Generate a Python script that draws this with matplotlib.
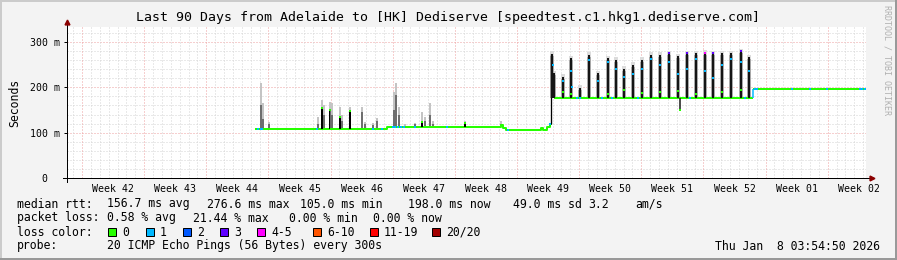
import matplotlib
matplotlib.use("Agg")
import matplotlib.pyplot as plt
from matplotlib.patches import Rectangle
from matplotlib.lines import Line2D

plt.rcParams['font.family'] = ['DejaVu Sans Mono']

W, H = 897, 260

# ---- data (x in days since start of the 90 day window, y in ms) ----
week_labels = ['Week 42', 'Week 43', 'Week 44', 'Week 45', 'Week 46', 'Week 47',
               'Week 48', 'Week 49', 'Week 50', 'Week 51', 'Week 52', 'Week 01', 'Week 02']
first_week_line = 1.69

# median rtt, step series for the low section
med_days = [21.3, 36.0, 48.9, 49.1, 49.4, 53.4, 53.6, 54.1, 54.4, 54.57]
med_vals = [108, 112, 117, 110, 106, 110, 106, 112, 120, 120]

# short median spikes in the low section
low_spike_days = [28.72, 29.62, 30.75, 31.88, 39.99, 44.83]
low_spike_peak = [154, 150, 135, 148, 124, 121]

# smoke in the low section
smoke_a_days = [21.85, 22.08, 22.75, 28.27, 28.72, 28.95, 29.62, 29.85, 30.75, 30.98,
                31.88, 33.23, 33.57, 34.47, 34.92, 36.83, 37.06, 37.40, 38.07, 39.20,
                39.99, 40.32, 40.89, 41.23, 44.83, 48.89]
smoke_a_top = [209, 165, 124, 135, 172, 160, 168, 165, 157, 140,
               157, 157, 124, 121, 132, 190, 209, 157, 118, 121,
               146, 135, 165, 125, 125, 125]
smoke_a_dark = [160, 130, 118, 120, 154, 140, 150, 140, 135, 125,
                148, 145, 120, 117, 125, 150, 183, 140, 115, 118,
                124, 125, 140, 120, 121, 118]

# daily spikes in the high section
base_b = 176
spike_days = [54.63, 54.86, 55.87, 56.77, 57.78, 58.80, 59.81, 60.94, 61.84, 62.74,
              63.76, 64.77, 65.78, 66.80, 67.81, 68.82, 69.84, 70.85, 71.86, 72.76,
              73.78, 74.79, 75.92, 76.82]
spike_peak = [273, 231, 223, 264, 198, 271, 231, 264, 260, 240,
              249, 260, 271, 271, 275, 268, 275, 275, 276, 275,
              275, 275, 279, 266]
spike_smoke = [326, 240, 235, 272, 212, 280, 245, 272, 270, 255,
               262, 272, 280, 282, 285, 282, 286, 285, 326, 285,
               285, 286, 288, 280]
dip_day, dip_val = 69.05, 150

flat_start, flat_end, flat_val = 77.27, 89.9, 197

# loss colour marks (day, ms)
loss1_days = [21.5, 21.8, 22.0, 28.16, 34.47, 35.48, 36.7, 37.0, 37.3, 37.6, 38.0, 39.2,
              42.8, 49.67, 54.4,
              54.75, 55.87, 56.77, 56.9, 58.80, 59.81, 60.94, 61.84, 62.74, 63.76, 64.77,
              65.78, 66.80, 67.81, 68.82, 69.84, 70.85, 71.86, 72.76, 73.78, 74.79,
              75.92, 76.82, 57.45, 57.8, 60.26, 61.4, 64.3, 70.2, 76.4,
              77.5, 77.7, 81.7, 83.7, 85.6, 89.3, 89.6, 89.85]
loss1_vals = [108, 108, 108, 108, 108, 108, 112, 112, 112, 112, 112, 112,
              112, 106, 120,
              250, 215, 235, 200, 260, 215, 255, 240, 222, 230, 240,
              262, 250, 255, 230, 240, 262, 235, 220, 250, 262,
              255, 236, 176, 176, 176, 176, 176, 176, 176,
              197, 197, 197, 197, 197, 197, 197, 197]
loss3_days = [67.81, 69.84, 72.76, 75.92]
loss3_vals = [275, 275, 275, 279]
loss45_days = [71.86]
loss45_vals = [276]
green_mark_days = [55.87, 56.77, 60.94, 62.74, 64.77, 66.80, 68.82, 70.85, 73.78, 75.92]
green_mark_vals = [190, 185, 185, 195, 188, 190, 192, 186, 190, 194]

loss_labels = ['0', '1', '2', '3', '4-5', '6-10', '11-19', '20/20']
loss_colors = ['#26ff00', '#00b8ff', '#0059ff', '#5e00ff', '#ff00ff', '#ff5500', '#ff0000', '#a10000']
loss_box_x = [108, 146, 183, 220, 257, 313, 370, 432]

GREEN = loss_colors[0]

fig = plt.figure(figsize=(W / 100, H / 100), dpi=100, facecolor='#f3f3f3')
ax = fig.add_axes([67 / W, 1 - 178 / H, (866 - 67) / W, (178 - 27) / H])
ax.set_facecolor('white')
ax.set_xlim(0, 90)
ax.set_ylim(0, 333)
for s in ax.spines.values():
    s.set_visible(False)

# grid
px = 0.72
for y in range(20, 333, 20):
    major = y % 100 == 0
    ax.axhline(y, color='#eea0a0' if major else '#d4d4d4', lw=px, ls=(0, (1, 2)), zorder=0)
for k in range(-1, 89):
    d = first_week_line + k
    if d <= 0 or d >= 90:
        continue
    major = k % 7 == 0
    ax.axvline(d, color='#eea0a0' if major else '#d4d4d4', lw=px, ls=(0, (1, 2)), zorder=0)

# smoke
low_base = [108 if d < 36 else 112 for d in smoke_a_days]
ax.bar(smoke_a_days, [t - b for b, t in zip(low_base, smoke_a_top)], bottom=low_base,
       width=0.13, color='#c4c4c4', zorder=1, linewidth=0)
ax.bar(smoke_a_days, [t - b for b, t in zip(low_base, smoke_a_dark)], bottom=low_base,
       width=0.13, color='#6e6e6e', zorder=1, linewidth=0)
ax.bar(spike_days, [t - base_b for t in spike_smoke], bottom=base_b, width=0.1,
       color='#e2e2e2', zorder=1, linewidth=0)
ax.bar(spike_days, [p + 6 - base_b for p in spike_peak], bottom=base_b, width=0.55,
       color='#dcdcdc', zorder=1, linewidth=0)
ax.bar(spike_days, [p - 4 - base_b for p in spike_peak], bottom=base_b, width=0.4,
       color='#a8a8a8', zorder=1, linewidth=0)

# median
ax.plot(med_days, med_vals, drawstyle='steps-post', color=GREEN, lw=2 * px, zorder=3)
ax.hlines(base_b, 54.9, flat_start, color=GREEN, lw=2 * px, zorder=3)
ax.hlines(flat_val, flat_start, flat_end, color=GREEN, lw=2 * px, zorder=3)
low_spike_base = [108 if d < 36 else 112 for d in low_spike_days]
ax.bar(low_spike_days, [p - b for b, p in zip(low_spike_base, low_spike_peak)],
       bottom=low_spike_base, width=0.12, color='black', zorder=4, linewidth=0)
ax.plot(low_spike_days, low_spike_peak, 's', color=GREEN, ms=1.8, mew=0, zorder=5)
ax.vlines(med_days[-1], med_vals[-1], spike_peak[0], color='black', lw=1.3 * px, zorder=4)
ax.bar(spike_days, [p - base_b for p in spike_peak], bottom=base_b, width=0.2,
       color='#151515', zorder=4, linewidth=0)
ax.vlines(dip_day, dip_val, base_b, color='#151515', lw=1.5 * px, zorder=4)
ax.plot([dip_day], [dip_val], 's', color=GREEN, ms=1.8, mew=0, zorder=5)
ax.vlines(flat_start, base_b, flat_val, color=loss_colors[1], lw=1.5 * px, zorder=4)

# loss colours on the median
ax.plot(loss1_days, loss1_vals, 's', color=loss_colors[1], ms=2.0, mew=0, zorder=6)
ax.plot(loss3_days, loss3_vals, 's', color=loss_colors[3], ms=2.0, mew=0, zorder=6)
ax.plot(loss45_days, loss45_vals, 's', color=loss_colors[4], ms=2.0, mew=0, zorder=6)
ax.plot(green_mark_days, green_mark_vals, 's', color=GREEN, ms=2.0, mew=0, zorder=6)

# axes with arrows
arrow = '#8b0000'
ax.add_line(Line2D([-4 / 799, 1 + 5 / 799], [0, 0], transform=ax.transAxes,
                   color='black', lw=px, clip_on=False, zorder=7))
ax.add_line(Line2D([0, 0], [-4 / 151, 1 + 4 / 151], transform=ax.transAxes,
                   color='black', lw=px, clip_on=False, zorder=7))
ax.plot([1 + 6 / 799], [0], '>', transform=ax.transAxes, color=arrow, ms=3.5,
        clip_on=False, zorder=8)
ax.plot([0], [1 + 5 / 151], '^', transform=ax.transAxes, color=arrow, ms=3.5,
        clip_on=False, zorder=8)

ax.set_xticks([first_week_line + 3.5 + 7 * k for k in range(len(week_labels))])
ax.set_xticklabels(week_labels)
ax.set_yticks([0, 100, 200, 300])
ax.set_yticklabels(['0  ', '100 m', '200 m', '300 m'])
ax.tick_params(axis='x', length=0, pad=4.5, labelsize=7.1)
ax.tick_params(axis='y', length=2, width=px, pad=3, labelsize=7.1)
ax.set_ylabel('Seconds', fontsize=8.3, labelpad=6)

# title and side text
fig.text(448 / W, 1 - 18 / H, 'Last 90 Days from Adelaide to [HK] Dediserve [speedtest.c1.hkg1.dediserve.com]',
         ha='center', va='center', fontsize=9.5)
fig.text(887 / W, 1 - 60 / H, 'RRDTOOL / TOBI OETIKER', rotation=270, ha='center', va='center',
         fontsize=6, color='#b0b0b0')

# legend lines
def t(x, y, s, **kw):
    fig.text(x / W, 1 - y / H, s, ha='left', va='center', fontsize=8.3, **kw)

t(16.7, 204, 'median rtt:')
t(106.7, 204, '156.7 ms avg')
t(207.3, 204, '276.6 ms max')
t(300, 204, '105.0 ms min')
t(407.7, 204, '198.0 ms now')
t(512.7, 204, '49.0 ms sd')
t(588.3, 204, '3.2')
t(635, 204, 'am/s')

t(16.7, 218, 'packet loss:')
t(106.7, 218, '0.58 % avg')
t(192.7, 218, '21.44 % max')
t(289.3, 218, '0.00 % min')
t(373.3, 218, '0.00 % now')

t(16.7, 232, 'loss color:')
for bx, lab, col in zip(loss_box_x, loss_labels, loss_colors):
    fig.add_artist(Rectangle((bx / W, 1 - 236 / H), 8 / W, 8 / H, transform=fig.transFigure,
                             facecolor=col, edgecolor='black', lw=px))
    t(bx + 14, 232, lab)

t(16.7, 246, 'probe:')
t(106.7, 246, '20 ICMP Echo Pings (56 Bytes) every 300s')
fig.text(880 / W, 1 - 246 / H, 'Thu Jan  8 03:54:50 2026', ha='right', va='center', fontsize=8.3)

# frame shading
fig.add_artist(Line2D([0, 1], [1 - 1 / H, 1 - 1 / H], transform=fig.transFigure, color='#cbcbcb', lw=2 * px))
fig.add_artist(Line2D([1 / W, 1 / W], [0, 1], transform=fig.transFigure, color='#cbcbcb', lw=2 * px))
fig.add_artist(Line2D([0, 1], [1.5 / H, 1.5 / H], transform=fig.transFigure, color='#999999', lw=3 * px))
fig.add_artist(Line2D([1 - 1.5 / W, 1 - 1.5 / W], [0, 1], transform=fig.transFigure, color='#999999', lw=3 * px))

fig.savefig('out.png', dpi=100, facecolor=fig.get_facecolor())
